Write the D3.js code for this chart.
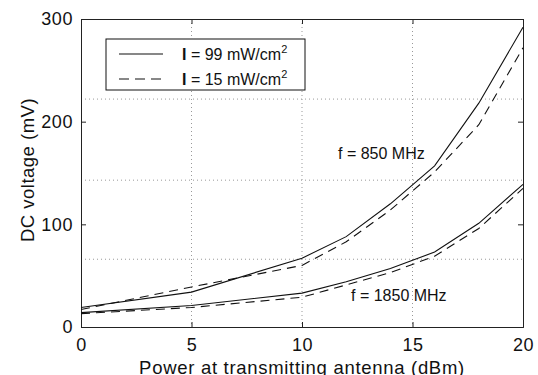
<html><head>
<script src="https://cdn.jsdelivr.net/npm/d3@7"></script>
<style>
  body { margin: 0; background: white; }
  text { font-family: "Liberation Sans", Arial, sans-serif; fill: #111; }
</style>
</head>
<body>
<svg width="538" height="375"></svg>
<script>

// data
let power = [0, 5, 10, 12, 14, 16, 18, 20];
let hi850 = [19, 34, 67, 88, 120, 157, 218, 292];
let lo850 = [17, 39, 60, 83, 114, 151, 197, 272];
let hi1850 = [14, 21, 33, 44, 57, 73, 101, 139];
let lo1850 = [13, 19, 29, 41, 53, 69, 96, 135];
let xTicks = [0, 5, 10, 15, 20];
let yTicks = [0, 100, 200, 300];
let xGrid = [5, 10, 15];
let yGrid = [66, 143, 222];   // the dotted lines do not sit on the ticks in the original
let legendLabels = ["99", "15"];

let svg = d3.select("svg");
let mLeft = 81, mTop = 19, w = 442, h = 308;

let x = d3.scaleLinear().domain([0, 20]).range([mLeft, mLeft + w]);
let y = d3.scaleLinear().domain([0, 300]).range([mTop + h, mTop]);

// grid
svg.selectAll(".vg").data(xGrid).enter().append("line")
    .attr("x1", d => x(d)).attr("x2", d => x(d))
    .attr("y1", mTop).attr("y2", mTop + h)
    .style("stroke", "#999").style("stroke-width", 1).style("stroke-dasharray", "1,3");
svg.selectAll(".hg").data(yGrid).enter().append("line")
    .attr("x1", mLeft).attr("x2", mLeft + w)
    .attr("y1", d => y(d)).attr("y2", d => y(d))
    .style("stroke", "#999").style("stroke-width", 1).style("stroke-dasharray", "1,3");

// axes (ticks pointing inward, box style)
let tickLen = 5;
svg.append("g").attr("transform", "translate(0," + (mTop + h) + ")")
    .call(d3.axisBottom(x).tickValues(xTicks).tickSize(-tickLen).tickPadding(11))
    .call(g => g.selectAll("text").style("font-size", "18px").style("letter-spacing", "0.6px"));
svg.append("g").attr("transform", "translate(0," + mTop + ")")
    .call(d3.axisTop(x).tickValues(xTicks).tickSize(-tickLen).tickFormat(""));
svg.append("g").attr("transform", "translate(" + mLeft + ",0)")
    .call(d3.axisLeft(y).tickValues(yTicks).tickSize(-tickLen).tickPadding(8))
    .call(g => g.selectAll("text").style("font-size", "18px").style("letter-spacing", "0.6px"));
svg.append("g").attr("transform", "translate(" + (mLeft + w) + ",0)")
    .call(d3.axisRight(y).tickValues(yTicks).tickSize(-tickLen).tickFormat(""));
svg.selectAll(".domain").style("stroke", "#222");
svg.selectAll(".tick line").style("stroke", "#222");

// curves
let line = d3.line().x((d, i) => x(power[i])).y(d => y(d));
[[hi850, null], [lo850, "9,6"], [hi1850, null], [lo1850, "9,6"]].forEach(function(s) {
  svg.append("path").attr("d", line(s[0]))
      .style("fill", "none").style("stroke", "#111").style("stroke-width", 1.1)
      .style("stroke-dasharray", s[1]);
});

// labels on the curves
svg.append("text").attr("x", 338).attr("y", 159).style("font-size", "16px").text("f = 850 MHz");
svg.append("text").attr("x", 351).attr("y", 301).style("font-size", "16px").text("f = 1850 MHz");

// legend
svg.append("rect").attr("x", 106).attr("y", 39).attr("width", 199).attr("height", 51)
    .style("fill", "white").style("stroke", "#111").style("stroke-width", 1);
legendLabels.forEach(function(d, i) {
  let ly = 54 + i * 25;
  svg.append("line").attr("x1", 119).attr("x2", 163).attr("y1", ly).attr("y2", ly)
      .style("stroke", "#111").style("stroke-width", 1.1)
      .style("stroke-dasharray", i == 1 ? "10,6" : null);
  let t = svg.append("text").attr("x", 182).attr("y", ly + 6).style("font-size", "16px");
  t.append("tspan").style("font-weight", "bold").text("I");
  t.append("tspan").text(" = " + d + " mW/cm");
  t.append("tspan").attr("dy", -7).style("font-size", "11px").text("2");
});

// axis titles
svg.append("text").attr("x", 302).attr("y", 374).attr("text-anchor", "middle")
    .style("font-size", "18.5px").style("letter-spacing", "0.7px")
    .text("Power at transmitting antenna (dBm)");
svg.append("text").attr("transform", "translate(34,170) rotate(-90)").attr("text-anchor", "middle")
    .style("font-size", "18.5px").style("letter-spacing", "0.5px")
    .text("DC voltage (mV)");

</script>
</body>
</html>
